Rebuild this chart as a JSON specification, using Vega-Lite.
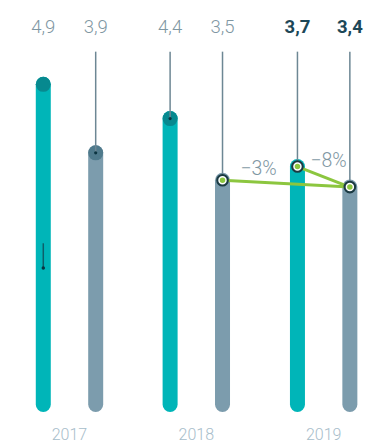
{
  "$schema": "https://vega.github.io/schema/vega-lite/v6.json",
  "width": 366,
  "height": 444,
  "padding": 0,
  "autosize": {"type": "none"},
  "config": {"view": {"stroke": null}, "font": "Roboto"},
  "datasets": {
    "bars": [
      {"pos": 0, "value": 4.9, "series": "A", "year": "2017", "label": "4,9", "pointer": false, "compared": false},
      {"pos": 1, "value": 3.9, "series": "B", "year": "2017", "label": "3,9", "pointer": true, "compared": false},
      {"pos": 2.42, "value": 4.4, "series": "A", "year": "2018", "label": "4,4", "pointer": true, "compared": false},
      {"pos": 3.42, "value": 3.5, "series": "B", "year": "2018", "label": "3,5", "pointer": true, "compared": true},
      {"pos": 4.85, "value": 3.7, "series": "A", "year": "2019", "label": "3,7", "pointer": true, "compared": true},
      {"pos": 5.85, "value": 3.4, "series": "B", "year": "2019", "label": "3,4", "pointer": true, "compared": true}
    ],
    "years": [
      {"pos": 0.5, "year": "2017"},
      {"pos": 2.92, "year": "2018"},
      {"pos": 5.35, "year": "2019"}
    ],
    "changes": [
      {"from": "2018", "pos": 3.42, "value": 3.5, "pos2": 5.85, "value2": 3.4, "label": "−3%"},
      {"from": "2019", "pos": 4.85, "value": 3.7, "pos2": 5.85, "value2": 3.4, "label": "−8%"}
    ],
    "tick": [{"pos": 0, "from": 2.58, "to": 2.22}]
  },
  "encoding": {
    "x": {"field": "pos", "type": "quantitative", "scale": {"domain": [-0.826, 6.158], "nice": false, "zero": false}, "axis": null}
  },
  "layer": [
    {
      "data": {"name": "bars"},
      "mark": {"type": "rule", "strokeWidth": 15, "strokeCap": "round"},
      "encoding": {
        "y": {"field": "value", "type": "quantitative", "scale": {"domain": [-0.35, 6.131], "nice": false, "zero": false}, "axis": null},
        "y2": {"datum": 0.226},
        "stroke": {"field": "series", "type": "nominal", "scale": {"domain": ["A", "B"], "range": ["#00b5b8", "#7c9cad"]}, "legend": null}
      }
    },
    {
      "data": {"name": "bars"},
      "transform": [{"filter": "!datum.compared"}],
      "mark": {"type": "circle", "size": 225, "opacity": 1},
      "encoding": {
        "y": {"field": "value", "type": "quantitative"},
        "fill": {"field": "series", "type": "nominal", "scale": {"domain": ["A", "B"], "range": ["#07898f", "#4f7a8c"]}, "legend": null}
      }
    },
    {
      "data": {"name": "bars"},
      "transform": [{"filter": "datum.pointer"}],
      "mark": {"type": "rule", "strokeWidth": 1.5, "color": "#6d8794"},
      "encoding": {
        "y": {"field": "value", "type": "quantitative"},
        "y2": {"datum": 5.377}
      }
    },
    {
      "data": {"name": "bars"},
      "transform": [{"filter": "datum.pointer && !datum.compared"}],
      "mark": {"type": "circle", "size": 10, "opacity": 1, "color": "#0b3440"},
      "encoding": {
        "y": {"field": "value", "type": "quantitative"}
      }
    },
    {
      "data": {"name": "tick"},
      "mark": {"type": "rule", "strokeWidth": 1.5, "color": "#0d5f69"},
      "encoding": {
        "y": {"field": "from", "type": "quantitative"},
        "y2": {"field": "to"}
      }
    },
    {
      "data": {"name": "tick"},
      "mark": {"type": "circle", "size": 12, "opacity": 1, "color": "#0b3440"},
      "encoding": {
        "y": {"field": "to", "type": "quantitative"}
      }
    },
    {
      "data": {"name": "changes"},
      "mark": {"type": "rule", "strokeWidth": 3, "color": "#8cc63f"},
      "encoding": {
        "y": {"field": "value", "type": "quantitative"},
        "x2": {"field": "pos2"},
        "y2": {"field": "value2"}
      }
    },
    {
      "data": {"name": "bars"},
      "transform": [{"filter": "datum.compared"}],
      "mark": {"type": "circle", "size": 160, "opacity": 1, "color": "#1b3a42"},
      "encoding": {
        "y": {"field": "value", "type": "quantitative"}
      }
    },
    {
      "data": {"name": "bars"},
      "transform": [{"filter": "datum.compared"}],
      "mark": {"type": "circle", "size": 49, "opacity": 1, "fill": "#8cc63f", "stroke": "#ffffff", "strokeWidth": 1.5},
      "encoding": {
        "y": {"field": "value", "type": "quantitative"}
      }
    },
    {
      "data": {"name": "bars"},
      "transform": [{"filter": "datum.year !== '2019'"}],
      "mark": {"type": "text", "fontSize": 18.5, "fontWeight": 300, "color": "#7f97a3", "align": "center", "baseline": "middle"},
      "encoding": {
        "y": {"datum": 5.73, "type": "quantitative"},
        "text": {"field": "label"}
      }
    },
    {
      "data": {"name": "bars"},
      "transform": [{"filter": "datum.year === '2019'"}],
      "mark": {"type": "text", "fontSize": 18.5, "fontWeight": "bold", "color": "#1d4757", "align": "center", "baseline": "middle"},
      "encoding": {
        "y": {"datum": 5.73, "type": "quantitative"},
        "text": {"field": "label"}
      }
    },
    {
      "data": {"name": "years"},
      "mark": {"type": "text", "fontSize": 16, "fontWeight": 300, "color": "#a7bdca", "align": "center", "baseline": "middle"},
      "encoding": {
        "y": {"datum": -0.219, "type": "quantitative"},
        "text": {"field": "year"}
      }
    },
    {
      "data": {"name": "changes"},
      "transform": [{"filter": "datum.from === '2018'"}],
      "mark": {"type": "text", "fontSize": 19.5, "fontWeight": 300, "color": "#7f97a3", "align": "center", "baseline": "middle", "dx": 36, "dy": -11},
      "encoding": {
        "y": {"field": "value", "type": "quantitative"},
        "text": {"field": "label"}
      }
    },
    {
      "data": {"name": "changes"},
      "transform": [{"filter": "datum.from === '2019'"}],
      "mark": {"type": "text", "fontSize": 19.5, "fontWeight": 300, "color": "#7f97a3", "align": "center", "baseline": "middle", "dx": 31, "dy": -6},
      "encoding": {
        "y": {"field": "value", "type": "quantitative"},
        "text": {"field": "label"}
      }
    }
  ]
}
